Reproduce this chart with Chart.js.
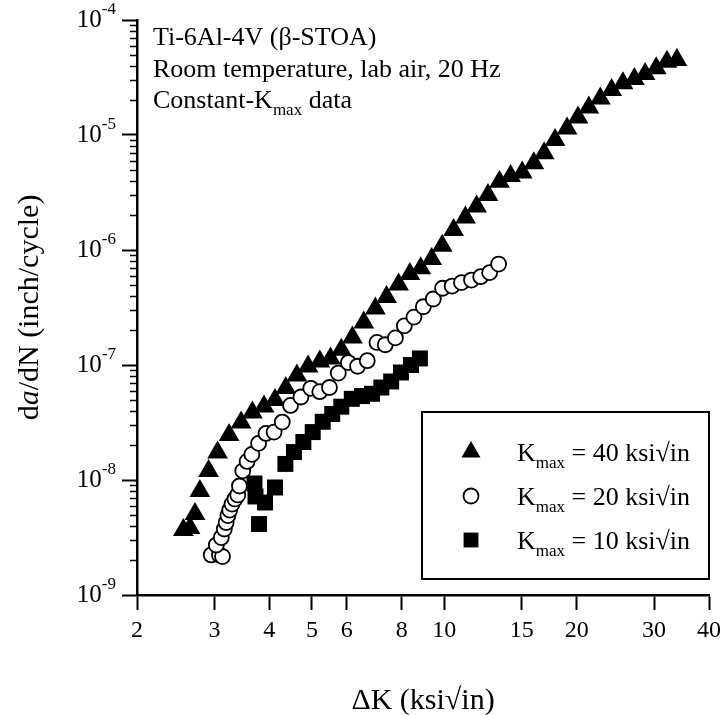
<!DOCTYPE html>
<html>
<head>
<meta charset="utf-8">
<title>da/dN vs delta K</title>
<script src="https://cdn.jsdelivr.net/npm/chart.js@4.4.1/dist/chart.umd.min.js"></script>
<style>
  body { margin: 0; background: #fff; }
  canvas { display: block; }
</style>
</head>
<body>
<canvas id="crackChart" width="727" height="715"></canvas>
<script>
// Axis ticks
const xTicks = [2, 3, 4, 5, 6, 8, 10, 15, 20, 30, 40];
const yTicks = [1e-9, 1e-8, 1e-7, 1e-6, 1e-5, 1e-4];

// Kmax = 40 ksi√in (triangles)
const k40DeltaK = [2.55, 2.64, 2.71, 2.78, 2.91, 3.05, 3.24, 3.45, 3.66, 3.89, 4.12, 4.36, 4.62, 4.90, 5.21, 5.51,
  5.83, 6.18, 6.56, 6.97, 7.39, 7.87, 8.35, 8.84, 9.36, 9.89, 10.5, 11.17, 11.84, 12.57, 13.35, 14.15,
  15.04, 15.98, 16.87, 17.86, 19.02, 20.14, 21.32, 22.64, 24.02, 25.49, 27.06, 28.62, 30.34, 32.09, 33.81];
const k40Rate = [3.67e-9, 3.83e-9, 5.06e-9, 8.03e-9, 1.20e-8, 1.73e-8, 2.46e-8, 3.16e-8, 3.86e-8, 4.36e-8, 4.96e-8,
  6.31e-8, 8.11e-8, 9.70e-8, 1.07e-7, 1.14e-7, 1.36e-7, 1.73e-7, 2.34e-7, 3.10e-7, 3.90e-7, 5.01e-7, 6.18e-7,
  6.93e-7, 8.35e-7, 1.09e-6, 1.49e-6, 1.92e-6, 2.39e-6, 3.01e-6, 3.93e-6, 4.40e-6, 4.72e-6, 5.68e-6, 6.93e-6,
  9.06e-6, 1.14e-5, 1.42e-5, 1.73e-5, 2.08e-5, 2.46e-5, 2.82e-5, 3.07e-5, 3.39e-5, 3.80e-5, 4.34e-5, 4.49e-5];

// Kmax = 20 ksi√in (open circles)
const k20DeltaK = [2.95, 3.08, 3.13, 3.03, 3.11, 3.16, 3.19, 3.22, 3.25, 3.29, 3.34, 3.39, 3.42, 3.48, 3.56, 3.65,
  3.78, 3.93, 4.10, 4.28, 4.47, 4.72, 4.97, 5.21, 5.48, 5.74, 6.05, 6.35, 6.68, 7.03, 7.34, 7.74, 8.11, 8.53,
  8.96, 9.44, 9.91, 10.42, 10.94, 11.53, 12.10, 12.68, 13.29];
const k20Rate = [2.23e-9, 2.23e-9, 2.16e-9, 2.72e-9, 3.16e-9, 3.75e-9, 4.27e-9, 4.91e-9, 5.48e-9, 6.18e-9, 6.84e-9,
  7.41e-9, 8.87e-9, 1.20e-8, 1.45e-8, 1.67e-8, 2.08e-8, 2.54e-8, 2.61e-8, 3.19e-8, 4.45e-8, 5.27e-8, 6.27e-8,
  5.86e-8, 6.37e-8, 8.51e-8, 1.05e-7, 9.75e-8, 1.09e-7, 1.57e-7, 1.50e-7, 1.72e-7, 2.19e-7, 2.61e-7, 3.21e-7,
  3.75e-7, 4.65e-7, 4.86e-7, 5.20e-7, 5.48e-7, 5.86e-7, 6.35e-7, 7.55e-7];

// Kmax = 10 ksi√in (filled squares)
const k10DeltaK = [3.70, 3.72, 3.91, 4.12, 3.79, 4.35, 4.55, 4.78, 5.02, 5.29, 5.56, 5.83, 6.16, 6.50, 6.85, 7.19,
  7.57, 7.97, 8.40, 8.80];
const k10Rate = [9.33e-9, 7.19e-9, 6.37e-9, 8.61e-9, 4.14e-9, 1.38e-8, 1.75e-8, 2.14e-8, 2.61e-8, 3.21e-8, 3.75e-8,
  4.34e-8, 5.08e-8, 5.37e-8, 5.62e-8, 6.37e-8, 7.19e-8, 8.61e-8, 1.0e-7, 1.14e-7];

const notes = ['Ti-6Al-4V (\u03b2-STOA)', 'Room temperature, lab air, 20 Hz'];
const legendValues = ['40', '20', '10'];

const serif = '"Liberation Serif", "Times New Roman", Times, serif';

function toPoints(xs, ys) {
  return xs.map((x, i) => ({ x: x, y: ys[i] }));
}

// draw a run of text pieces (with sub/superscripts), returns end x
function drawParts(ctx, x, y, parts) {
  parts.forEach(p => {
    ctx.font = (p.italic ? 'italic ' : '') + p.size + 'px ' + serif;
    ctx.fillText(p.t, x, y + (p.dy || 0));
    x += ctx.measureText(p.t).width;
  });
  return x;
}
function measureParts(ctx, parts) {
  let w = 0;
  parts.forEach(p => {
    ctx.font = (p.italic ? 'italic ' : '') + p.size + 'px ' + serif;
    w += ctx.measureText(p.t).width;
  });
  return w;
}

function drawMarker(ctx, style, x, y, r) {
  ctx.beginPath();
  if (style === 'triangle') {
    ctx.moveTo(x, y - r);
    ctx.lineTo(x + r * Math.sin(2 * Math.PI / 3), y - r * Math.cos(2 * Math.PI / 3));
    ctx.lineTo(x + r * Math.sin(4 * Math.PI / 3), y - r * Math.cos(4 * Math.PI / 3));
    ctx.closePath();
    ctx.fill();
  } else if (style === 'circle') {
    ctx.arc(x, y, r, 0, Math.PI * 2);
    ctx.fillStyle = '#fff';
    ctx.fill();
    ctx.lineWidth = 1.8;
    ctx.stroke();
    ctx.fillStyle = '#000';
  } else {
    const s = r * Math.SQRT1_2;
    ctx.rect(x - s, y - s, 2 * s, 2 * s);
    ctx.fill();
  }
}

// Extra drawing: y labels with exponents, minor ticks, titles, notes, legend
const extrasPlugin = {
  id: 'extras',
  afterDraw(chart) {
    const ctx = chart.ctx;
    const area = chart.chartArea;
    const yScale = chart.scales.y;
    ctx.save();
    ctx.fillStyle = '#000';
    ctx.strokeStyle = '#000';

    // minor ticks on y
    ctx.lineWidth = 1.5;
    for (let e = -9; e < -4; e++) {
      for (let m = 2; m <= 9; m++) {
        const py = Math.round(yScale.getPixelForValue(m * Math.pow(10, e))) + 0.5;
        ctx.beginPath();
        ctx.moveTo(area.left - 7, py);
        ctx.lineTo(area.left, py);
        ctx.stroke();
      }
    }

    // y tick labels 10^n
    ctx.textBaseline = 'middle';
    ctx.textAlign = 'left';
    yTicks.forEach(v => {
      const py = yScale.getPixelForValue(v);
      const parts = [
        { t: '10', size: 25 },
        { t: String(Math.round(Math.log10(v))), size: 17, dy: -10 }
      ];
      const w = measureParts(ctx, parts);
      drawParts(ctx, 116 - w, py, parts);
    });

    // y axis title
    ctx.save();
    ctx.translate(30, (area.top + area.bottom) / 2);
    ctx.rotate(-Math.PI / 2);
    const yTitle = [
      { t: 'd', size: 30 },
      { t: 'a', size: 30, italic: true },
      { t: '/dN (inch/cycle)', size: 30 }
    ];
    drawParts(ctx, -measureParts(ctx, yTitle) / 2, 0, yTitle);
    ctx.restore();

    // x axis title
    const xTitle = [{ t: '\u0394K (ksi\u221ain)', size: 30 }];
    ctx.textBaseline = 'alphabetic';
    drawParts(ctx, (area.left + area.right) / 2 - measureParts(ctx, xTitle) / 2, 709, xTitle);

    // notes in the corner
    drawParts(ctx, 153, 45, [{ t: notes[0], size: 26 }]);
    drawParts(ctx, 153, 77, [{ t: notes[1], size: 26 }]);
    drawParts(ctx, 153, 108, [
      { t: 'Constant-K', size: 26 },
      { t: 'max', size: 17, dy: 7 },
      { t: ' data', size: 26 }
    ]);

    // legend box
    ctx.lineWidth = 2;
    ctx.strokeRect(422, 412, area.right - 422, 167);
    const styles = ['triangle', 'circle', 'rect'];
    const sizes = [11, 7.5, 10.5];
    const rows = [452, 496, 540];
    rows.forEach((ry, i) => {
      drawMarker(ctx, styles[i], 471, ry, sizes[i]);
      drawParts(ctx, 517, ry + 9, [
        { t: 'K', size: 26 },
        { t: 'max', size: 17, dy: 7 },
        { t: ' = ' + legendValues[i] + ' ksi\u221ain', size: 26 }
      ]);
    });

    ctx.restore();
  }
};

const ctx = document.getElementById('crackChart').getContext('2d');

new Chart(ctx, {
  type: 'scatter',
  data: {
    datasets: [
      {
        label: 'Kmax = 10',
        data: toPoints(k10DeltaK, k10Rate),
        pointStyle: 'rect',
        pointRadius: 11.3,
        backgroundColor: '#000',
        borderColor: '#000',
        borderWidth: 0,
        order: 1
      },
      {
        label: 'Kmax = 20',
        data: toPoints(k20DeltaK, k20Rate),
        pointStyle: 'circle',
        pointRadius: 7.5,
        backgroundColor: '#fff',
        borderColor: '#000',
        borderWidth: 1.8,
        order: 2
      },
      {
        label: 'Kmax = 40',
        data: toPoints(k40DeltaK, k40Rate),
        pointStyle: 'triangle',
        pointRadius: 12,
        backgroundColor: '#000',
        borderColor: '#000',
        borderWidth: 0,
        order: 3
      }
    ]
  },
  options: {
    responsive: false,
    devicePixelRatio: 1,
    animation: false,
    layout: { padding: { top: 20, right: 15, bottom: 0, left: 0 } },
    plugins: {
      legend: { display: false },
      tooltip: { enabled: false }
    },
    scales: {
      x: {
        type: 'logarithmic',
        position: 'bottom',
        min: 2,
        max: 40,
        afterBuildTicks: scale => { scale.ticks = xTicks.map(v => ({ value: v })); },
        afterFit: scale => { scale.height = 120; },
        ticks: {
          callback: v => String(v),
          color: '#000',
          padding: 6,
          maxRotation: 0,
          autoSkip: false,
          font: { family: serif, size: 24 }
        },
        grid: { drawOnChartArea: false, tickLength: 15, tickWidth: 2, tickColor: '#000' },
        border: { display: true, color: '#000', width: 2.5 }
      },
      y: {
        type: 'logarithmic',
        min: 1e-9,
        max: 1e-4,
        afterBuildTicks: scale => { scale.ticks = yTicks.map(v => ({ value: v })); },
        afterFit: scale => { scale.width = 137; },
        ticks: { display: false },
        grid: { drawOnChartArea: false, tickLength: 15, tickWidth: 2, tickColor: '#000' },
        border: { display: true, color: '#000', width: 2.5 }
      }
    }
  },
  plugins: [extrasPlugin]
});
</script>
</body>
</html>
